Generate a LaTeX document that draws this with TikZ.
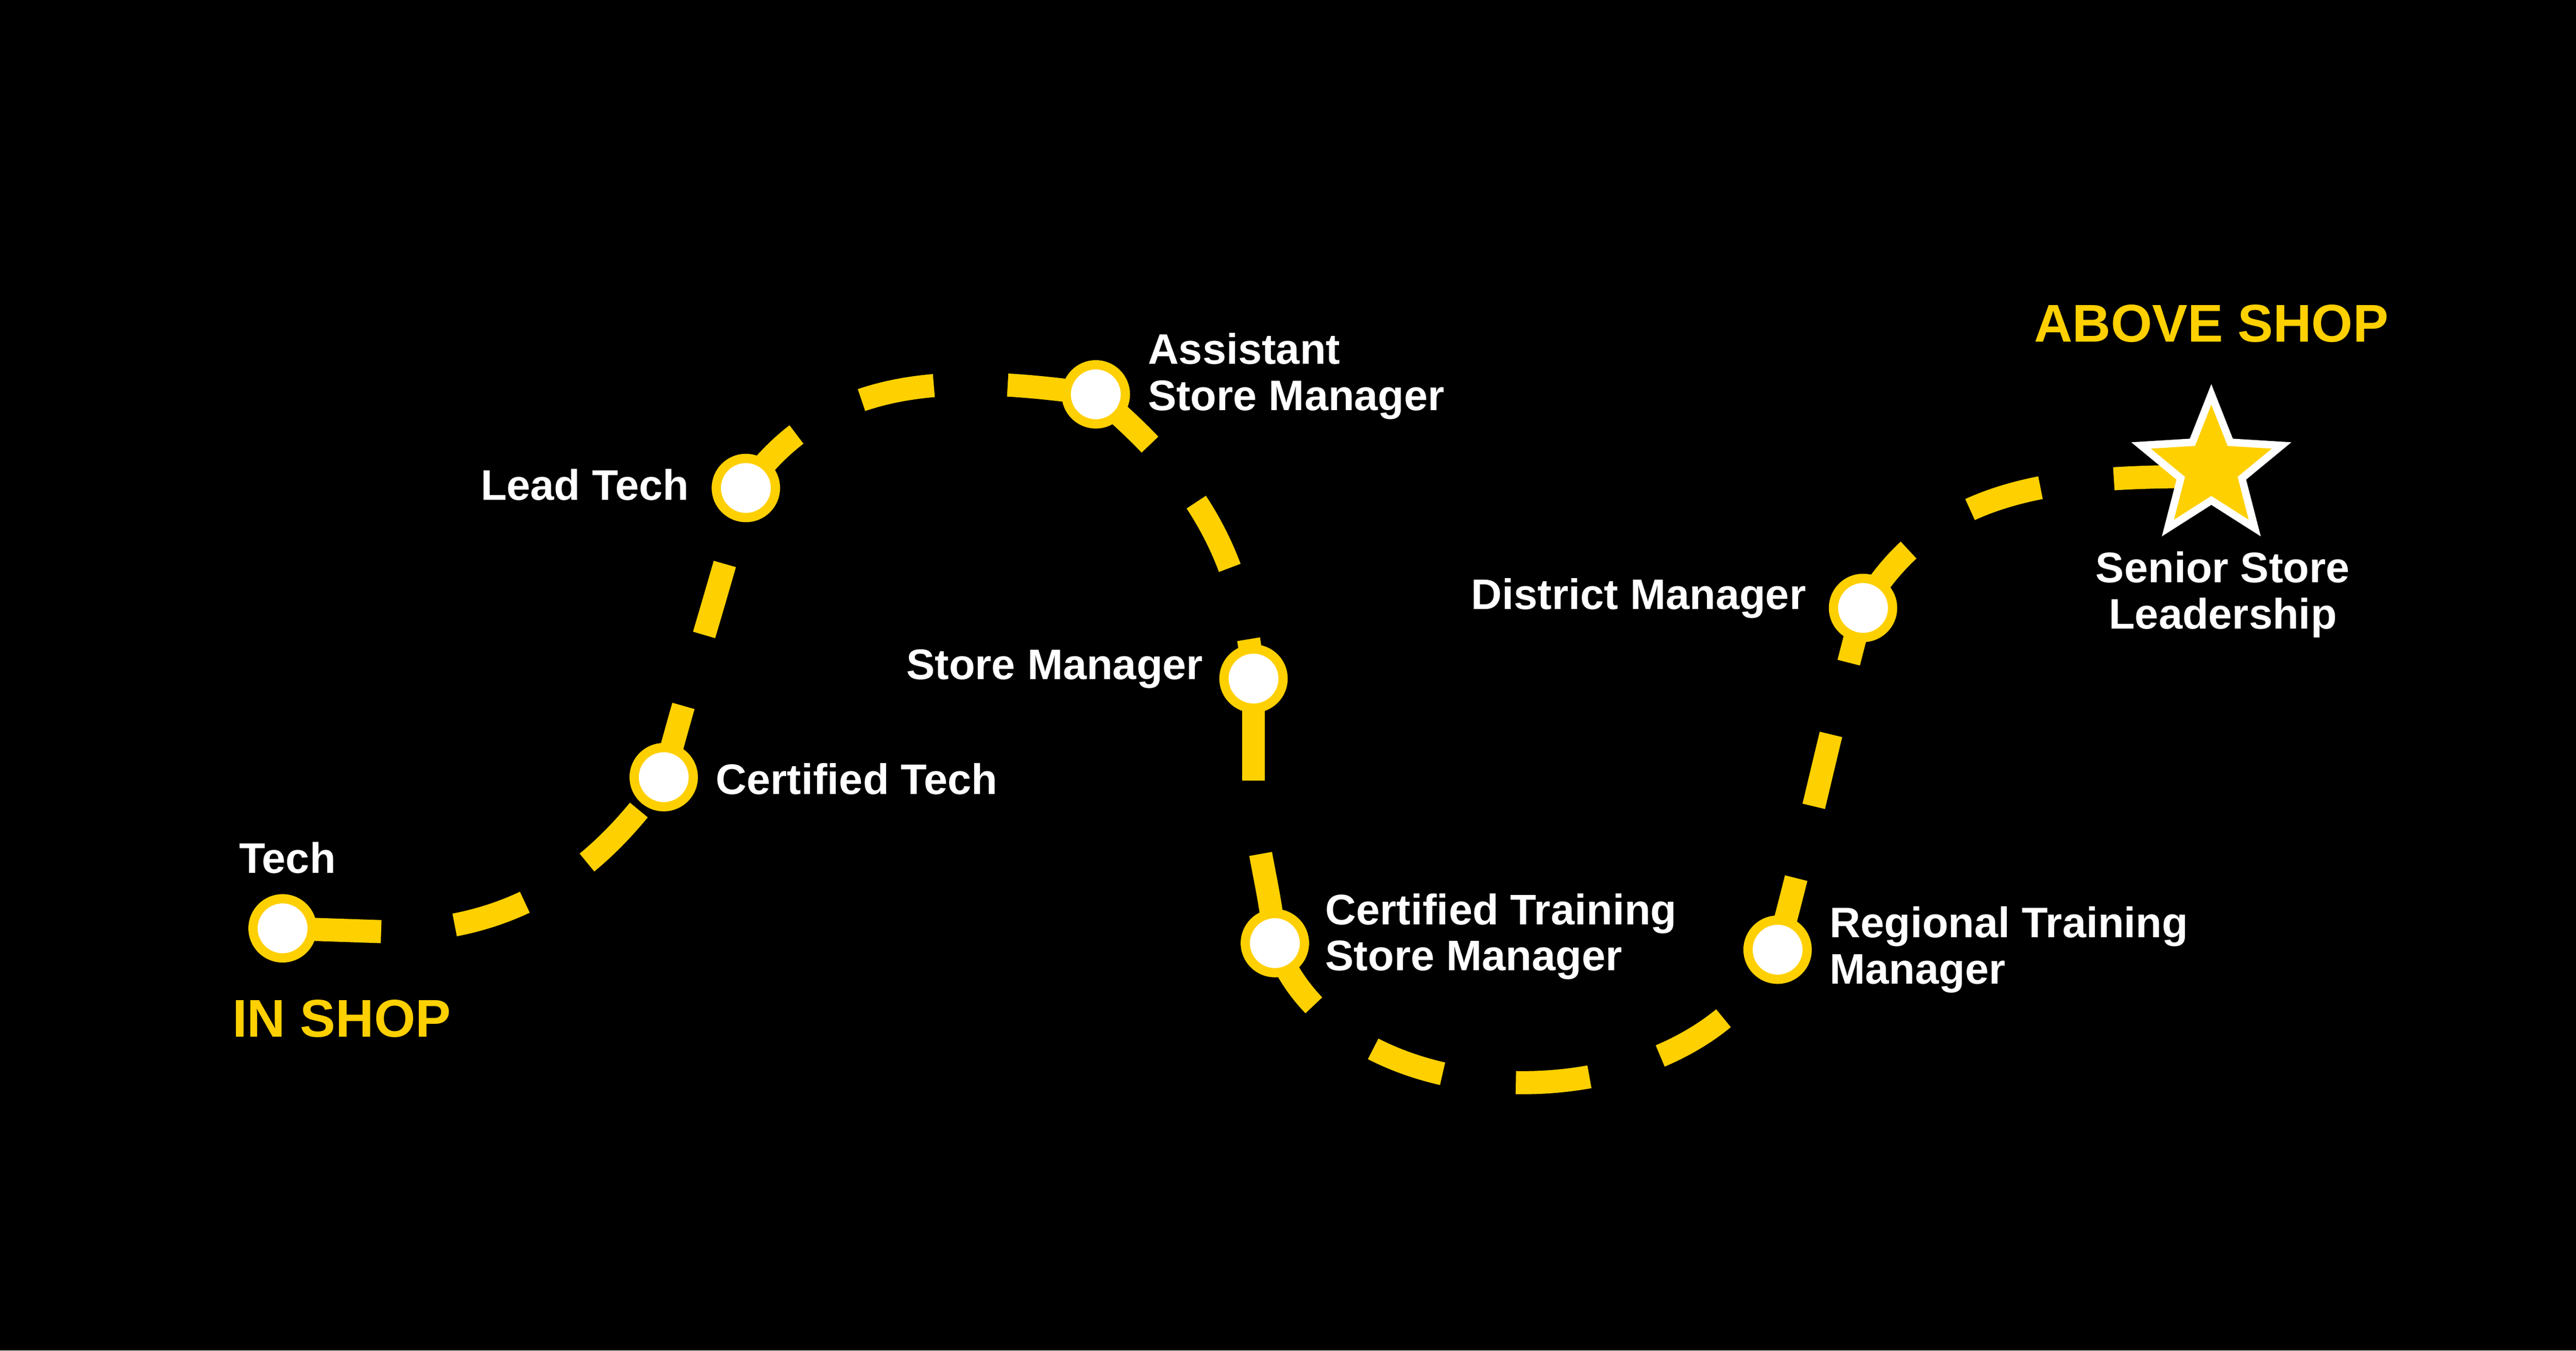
\documentclass[tikz,border=0pt]{standalone}
\usepackage{fontspec}
\setmainfont{Liberation Sans}
\usetikzlibrary{shapes.geometric}
\definecolor{shopyellow}{HTML}{FFD000}
\tikzset{
	stop/.style={shape=circle,draw=shopyellow,fill=white,line width=1.6pt,minimum size=0.36cm,inner sep=0pt},
	route/.style={draw=shopyellow,line width=4pt,dash pattern=on 0.45cm off 0.45cm},
	solidroute/.style={draw=shopyellow,line width=4pt},
	lbl/.style={text=white,font=\bfseries\fontsize{7.4}{8}\selectfont,align=left,inner sep=0pt},
	head/.style={text=shopyellow,font=\bfseries\fontsize{9.2}{10}\selectfont,inner sep=0pt}
}
\begin{document}
\begin{tikzpicture}
	\fill[black] (0,0) rectangle (15.68,-8.22);
	\useasboundingbox (0,0) rectangle (15.68,-8.22);
	\coordinate (techend) at (2.32,-5.67);
	\coordinate (smend) at (7.63,-4.75);
	% path
	\draw[solidroute] (1.72,-5.65) -- (techend);
	\draw[route,dash phase=0.45cm] (techend) to[out=0,in=-125] (4.04,-4.73);
	\draw[route] (4.04,-4.73) to[out=75,in=-105] (4.54,-2.97);
	\draw[route] (4.54,-2.97) to[out=55,in=172] (6.67,-2.40);
	\draw[route] (6.67,-2.40) to[out=-40,in=95] (7.63,-4.13);
	\draw[solidroute] (7.63,-4.13) -- (smend);
	\draw[route,dash phase=0.45cm] (smend) to[out=-90,in=95] (7.76,-5.74);
	\draw[route] (7.76,-5.74) to[out=-70,in=-115] (10.82,-5.78);
	\draw[route] (10.82,-5.78) to[out=75,in=-105] (11.34,-3.70);
	\draw[route] (11.34,-3.70) to[out=60,in=180] (13.45,-2.90);
	% stops
	\node[stop] (tech) at (1.72,-5.65) {};
	\node[stop] (ctech) at (4.04,-4.73) {};
	\node[stop] (lead) at (4.54,-2.97) {};
	\node[stop] (asm) at (6.67,-2.40) {};
	\node[stop] (sm) at (7.63,-4.13) {};
	\node[stop] (ctsm) at (7.76,-5.74) {};
	\node[stop] (rtm) at (10.82,-5.78) {};
	\node[stop] (dm) at (11.34,-3.70) {};
	\node[star,star points=5,star point ratio=2.3,fill=shopyellow,draw=white,line width=1.3pt,minimum size=0.9cm,inner sep=0pt] (senior) at (13.46,-2.85) {};
	% labels
	\node[lbl] (techlbl) at (1.75,-5.22) {Tech};
	\node[head] (inshop) at (2.08,-6.20) {IN SHOP};
	\node[head] (aboveshop) at (13.46,-1.97) {ABOVE SHOP};
	\node[lbl,anchor=west] (ctechlbl) at (4.35,-4.74) {Certified Tech};
	\node[lbl,anchor=east] (leadlbl) at (4.20,-2.95) {Lead Tech};
	\node[lbl,anchor=west] (asmlbl) at (6.98,-2.29) {Assistant\\Store Manager};
	\node[lbl,anchor=east] (smlbl) at (7.33,-4.07) {Store Manager};
	\node[lbl,anchor=west] (ctsmlbl) at (8.06,-5.70) {Certified Training\\Store Manager};
	\node[lbl,anchor=west] (rtmlbl) at (11.13,-5.78) {Regional Training\\Manager};
	\node[lbl,anchor=east] (dmlbl) at (11.00,-3.64) {District Manager};
	\node[lbl,align=center] (seniorlbl) at (13.53,-3.62) {Senior Store\\Leadership};
\end{tikzpicture}
\end{document}
